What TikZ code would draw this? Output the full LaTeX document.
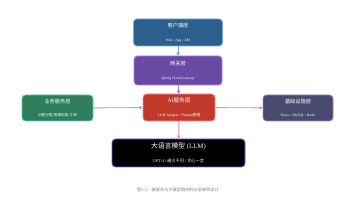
\documentclass[tikz,border=0pt]{standalone}
\usepackage{fontspec}
\setmainfont{Liberation Serif}
\newfontfamily\cjk{Noto Sans CJK SC}
\usetikzlibrary{arrows.meta}
\definecolor{cliF}{HTML}{2C5F8D}\definecolor{cliB}{HTML}{6FA8DC}
\definecolor{gwF}{HTML}{6A4AA5}\definecolor{gwB}{HTML}{9B7FE0}
\definecolor{aiF}{HTML}{C0392B}\definecolor{aiB}{HTML}{FF8A8A}
\definecolor{bzF}{HTML}{2E7D5E}\definecolor{bzB}{HTML}{5FD3A3}
\definecolor{inF}{HTML}{4A4A6E}\definecolor{inB}{HTML}{8A8AC0}
\definecolor{llB}{HTML}{7B5CE7}
\tikzset{
 layer/.style={rounded corners=3.5pt, line width=0.8pt, text=white, align=center, inner sep=0pt},
 conn/.style={line width=0.9pt, -{Triangle[length=3pt,width=3.5pt]}},
}
\begin{document}
\begin{tikzpicture}[x=1pt,y=-1pt]
\useasboundingbox[fill=white] (0,0) rectangle (356,200);
\node[layer, fill=cliF, draw=cliB, minimum width=89pt, minimum height=27pt] (cli) at (178,32.5)
 {{\cjk\fontsize{5.2}{6}\selectfont 客户端层}\\[1.5pt]{\fontsize{3.6}{4}\selectfont Web / App / API}};
\node[layer, fill=gwF, draw=gwB, minimum width=88pt, minimum height=29pt] (gw) at (178,70.5)
 {{\cjk\fontsize{5.2}{6}\selectfont 网关层}\\[1.5pt]{\fontsize{3.6}{4}\selectfont Spring Cloud Gateway}};
\node[layer, fill=aiF, draw=aiB, minimum width=72pt, minimum height=27pt] (ai) at (179,107.5)
 {{\fontsize{5.6}{6}\selectfont AI{\cjk 服务层}}\\[1.5pt]{\fontsize{3.8}{4}\selectfont LLM Adapter / Prompt{\cjk 管理}}};
\node[layer, fill=bzF, draw=bzB, minimum width=71pt, minimum height=26pt] (bz) at (57.5,108)
 {{\cjk\fontsize{5.2}{6}\selectfont 业务服务层}\\[1.5pt]{\cjk\fontsize{3.6}{4}\selectfont 问题分类/答案检索/工单}};
\node[layer, fill=inF, draw=inB, minimum width=70pt, minimum height=26pt] (inf) at (298,108)
 {{\cjk\fontsize{5.2}{6}\selectfont 基础设施层}\\[1.5pt]{\fontsize{3.6}{4}\selectfont Nacos / MySQL / Redis}};
\node[layer, fill=black, draw=llB, minimum width=133pt, minimum height=28pt] (llm) at (178.5,153)
 {{\fontsize{6.8}{7}\selectfont{\cjk 大语言模型} (LLM)}\\[2pt]{\fontsize{4.2}{5}\selectfont GPT-4 / {\cjk 通义千问} / {\cjk 文心一言}}};
\node[text=gray, inner sep=0pt] (cap) at (178,190) {\cjk\fontsize{4.2}{5}\selectfont 图1-1：微服务与大模型融合的分层架构设计};
\draw[conn, draw=cliB, fill=cliB] (cli) -- (gw);
\draw[conn, draw=gwB, fill=gwB] (gw) -- (ai);
\draw[conn, draw=aiB, fill=aiB] (ai) -- (llm);
\draw[conn, draw=bzB, fill=bzB] (bz) -- (ai);
\draw[conn, draw=aiB, fill=aiB] (ai) -- (inf);
\end{tikzpicture}
\end{document}
